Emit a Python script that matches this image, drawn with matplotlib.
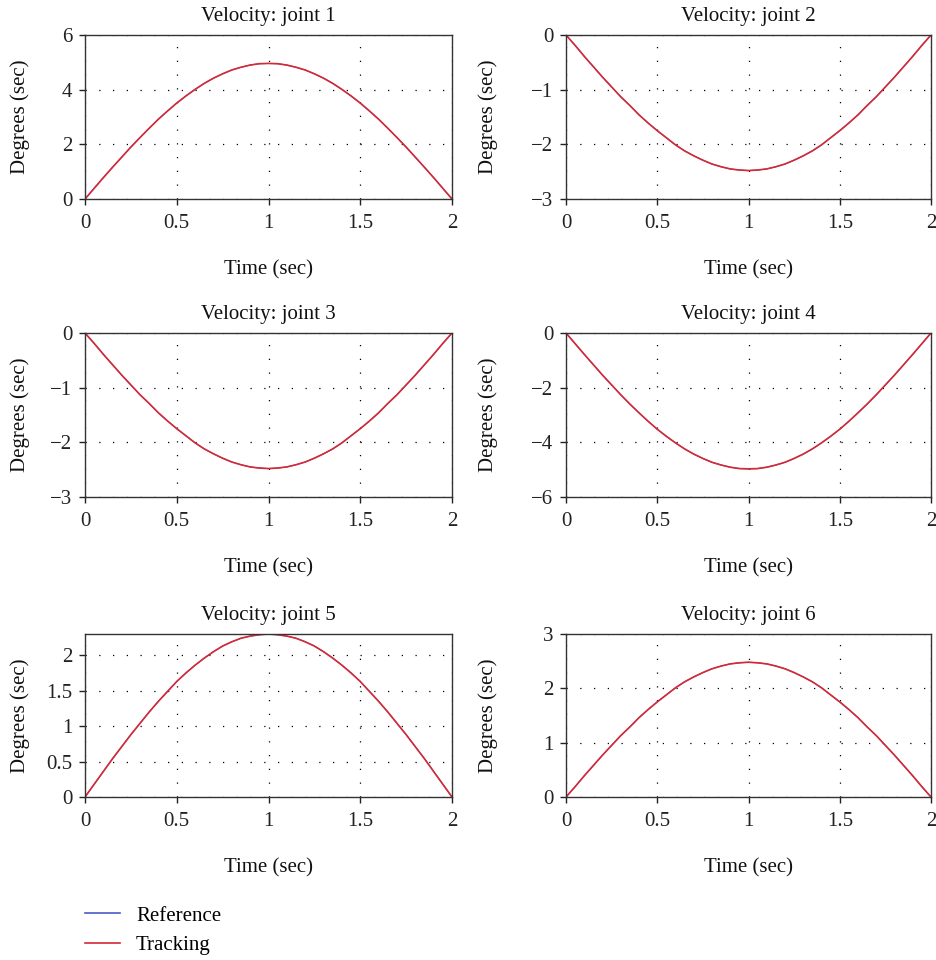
import matplotlib
matplotlib.use("Agg")
import matplotlib.pyplot as plt
from matplotlib.lines import Line2D

plt.rcParams['font.family'] = ['Liberation Serif', 'DejaVu Serif']
plt.rcParams['axes.unicode_minus'] = True

time = [0.00, 0.05, 0.10, 0.15, 0.20, 0.25, 0.30, 0.35, 0.40, 0.45, 0.50,
        0.55, 0.60, 0.65, 0.70, 0.75, 0.80, 0.85, 0.90, 0.95, 1.00,
        1.05, 1.10, 1.15, 1.20, 1.25, 1.30, 1.35, 1.40, 1.45, 1.50,
        1.55, 1.60, 1.65, 1.70, 1.75, 1.80, 1.85, 1.90, 1.95, 2.00]

joint1 = [0.00, 0.39, 0.78, 1.16, 1.53, 1.90, 2.25, 2.59, 2.92, 3.22, 3.51,
          3.77, 4.01, 4.23, 4.42, 4.58, 4.72, 4.82, 4.90, 4.95, 4.96,
          4.95, 4.90, 4.82, 4.72, 4.58, 4.42, 4.23, 4.01, 3.77, 3.51,
          3.22, 2.92, 2.59, 2.25, 1.90, 1.53, 1.16, 0.78, 0.39, 0.00]
joint2 = [0.00, -0.19, -0.39, -0.58, -0.77, -0.95, -1.13, -1.29, -1.46, -1.61, -1.75,
          -1.88, -2.01, -2.12, -2.21, -2.29, -2.36, -2.41, -2.45, -2.47, -2.48,
          -2.47, -2.45, -2.41, -2.36, -2.29, -2.21, -2.12, -2.01, -1.88, -1.75,
          -1.61, -1.46, -1.29, -1.13, -0.95, -0.77, -0.58, -0.39, -0.19, 0.00]
joint3 = [0.00, -0.19, -0.39, -0.58, -0.77, -0.95, -1.13, -1.29, -1.46, -1.61, -1.75,
          -1.88, -2.01, -2.12, -2.21, -2.29, -2.36, -2.41, -2.45, -2.47, -2.48,
          -2.47, -2.45, -2.41, -2.36, -2.29, -2.21, -2.12, -2.01, -1.88, -1.75,
          -1.61, -1.46, -1.29, -1.13, -0.95, -0.77, -0.58, -0.39, -0.19, 0.00]
joint4 = [0.00, -0.39, -0.78, -1.16, -1.54, -1.90, -2.26, -2.60, -2.92, -3.23, -3.52,
          -3.78, -4.02, -4.24, -4.43, -4.59, -4.73, -4.83, -4.91, -4.96, -4.97,
          -4.96, -4.91, -4.83, -4.73, -4.59, -4.43, -4.24, -4.02, -3.78, -3.52,
          -3.23, -2.92, -2.60, -2.26, -1.90, -1.54, -1.16, -0.78, -0.39, 0.00]
joint5 = [0.00, 0.18, 0.36, 0.54, 0.71, 0.88, 1.04, 1.20, 1.35, 1.49, 1.63,
          1.75, 1.86, 1.96, 2.05, 2.13, 2.19, 2.24, 2.27, 2.29, 2.30,
          2.29, 2.27, 2.24, 2.19, 2.13, 2.05, 1.96, 1.86, 1.75, 1.63,
          1.49, 1.35, 1.20, 1.04, 0.88, 0.71, 0.54, 0.36, 0.18, 0.00]
joint6 = [0.00, 0.19, 0.39, 0.58, 0.77, 0.95, 1.13, 1.29, 1.46, 1.61, 1.75,
          1.88, 2.01, 2.12, 2.21, 2.29, 2.36, 2.41, 2.45, 2.47, 2.48,
          2.47, 2.45, 2.41, 2.36, 2.29, 2.21, 2.12, 2.01, 1.88, 1.75,
          1.61, 1.46, 1.29, 1.13, 0.95, 0.77, 0.58, 0.39, 0.19, 0.00]

series = [joint1, joint2, joint3, joint4, joint5, joint6]
titles = ["Velocity: joint 1", "Velocity: joint 2", "Velocity: joint 3",
          "Velocity: joint 4", "Velocity: joint 5", "Velocity: joint 6"]
ylims = [(0, 6), (-3, 0), (-3, 0), (-6, 0), (0, 2.3), (0, 3)]
yticks = [[0, 2, 4, 6], [-3, -2, -1, 0], [-3, -2, -1, 0], [-6, -4, -2, 0],
          [0, 0.5, 1, 1.5, 2], [0, 1, 2, 3]]
yticklabels = [["0", "2", "4", "6"], ["−3", "−2", "−1", "0"], ["−3", "−2", "−1", "0"],
               ["−6", "−4", "−2", "0"], ["0", "0.5", "1", "1.5", "2"], ["0", "1", "2", "3"]]
xticks = [0, 0.5, 1, 1.5, 2]
xticklabels = ["0", "0.5", "1", "1.5", "2"]
legend_labels = ["Reference", "Tracking"]

ref_color = "#4a5bc8"
trk_color = "#d42a35"
FS = 15

fig = plt.figure(figsize=(9.36, 9.6), dpi=100)
W, H = 936.0, 960.0
col_x = [(85, 452), (566, 931)]
row_y = [(35, 199), (333, 497), (634, 797)]
ylabel_x = [20, 488]

for i in range(6):
    r, c = divmod(i, 2)
    x0, x1 = col_x[c]
    y0, y1 = row_y[r]
    ax = fig.add_axes([x0 / W, 1 - y1 / H, (x1 - x0) / W, (y1 - y0) / H])
    ax.plot(time, series[i], color=ref_color, lw=0.8)
    ax.plot(time, series[i], color=trk_color, lw=1.2)
    ax.set_xlim(0, 2)
    ax.set_ylim(*ylims[i])
    ax.set_xticks(xticks)
    ax.set_xticklabels(xticklabels)
    ax.set_yticks(yticks[i])
    ax.set_yticklabels(yticklabels[i])
    ax.grid(True, color="black", linestyle=(0, (1, 10)), linewidth=0.9)
    ax.tick_params(direction="out", length=4, width=1, labelsize=FS, colors="#222222")
    ax.tick_params(axis="y", pad=5)
    ax.tick_params(axis="x", pad=7)
    for s in ax.spines.values():
        s.set_linewidth(1.0)
        s.set_color("#333333")
    ax.set_title(titles[i], fontsize=FS, pad=10, color="#111111")
    ax.set_xlabel("Time (sec)", fontsize=FS, color="#111111")
    ax.set_ylabel("Degrees (sec)", fontsize=FS, color="#111111")
    ax.xaxis.set_label_coords(0.5, -71.0 / (y1 - y0))
    ax.xaxis.label.set_va("center")
    ax.yaxis.set_label_coords((ylabel_x[c] - x0) / float(x1 - x0), 0.5)
    ax.yaxis.label.set_va("center")

handles = [Line2D([], [], color=ref_color, lw=1.2), Line2D([], [], color=trk_color, lw=1.2)]
fig.legend(handles, legend_labels, loc="upper left",
           bbox_to_anchor=(85 / W, 1 - 906 / H), frameon=False, fontsize=FS,
           handlelength=1.7, labelspacing=0.49, handletextpad=0.75,
           borderpad=0, borderaxespad=0)

fig.savefig("out.png", dpi=100)
